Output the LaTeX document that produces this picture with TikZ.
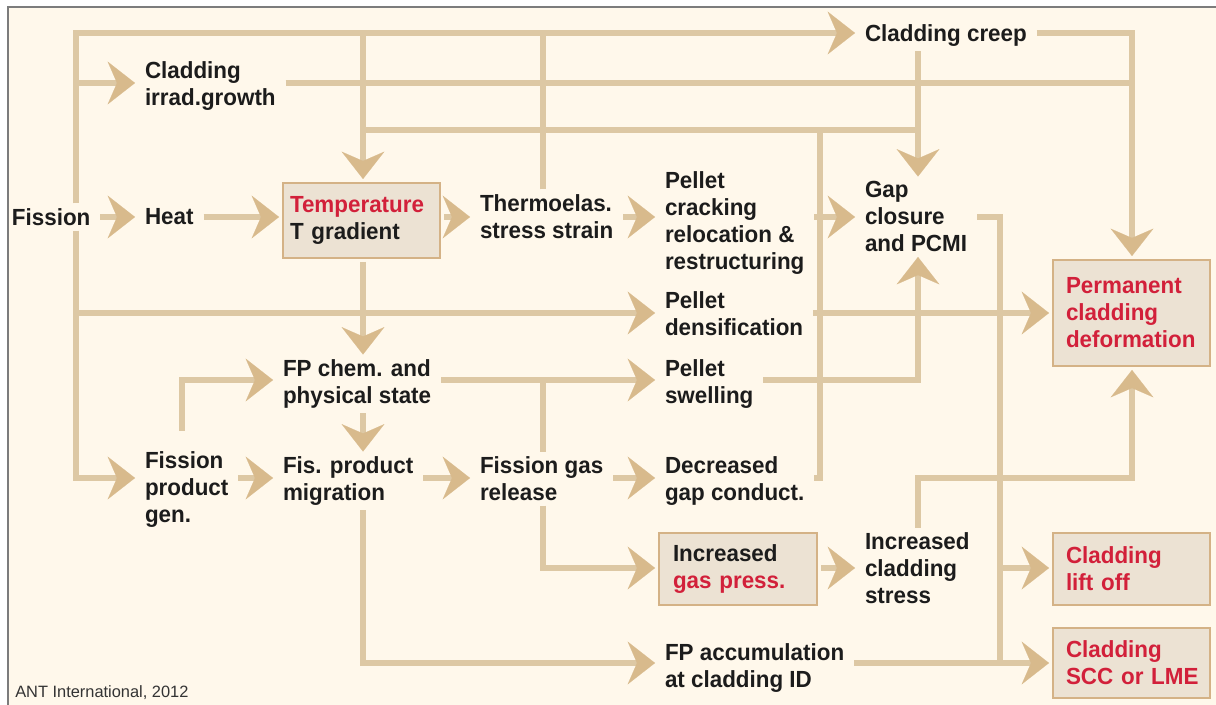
\documentclass[tikz,border=0pt]{standalone}
\usepackage{fontspec}
\setmainfont{Liberation Sans}[FakeStretch=0.96]
\newfontfamily\antfont{Liberation Sans}
\usetikzlibrary{arrows.meta}
\definecolor{bgc}{HTML}{FFF8EB}
\definecolor{linec}{HTML}{DDC8A4}
\definecolor{tipc}{HTML}{D8BA8C}
\definecolor{boxf}{HTML}{ECE2D3}
\definecolor{boxd}{HTML}{D4B286}
\definecolor{redt}{HTML}{D2203A}
\definecolor{txt}{HTML}{1C1C1C}
\definecolor{framec}{HTML}{7C7C7C}
\begin{document}
\begin{tikzpicture}[x=0.75pt,y=-0.75pt,
  conn/.style={draw=linec, line width=4.5pt},
  arr/.style={conn, -{Stealth[length=20.5pt,width=32pt,inset=7pt,line width=0.1pt,color=tipc]}},
  lbl/.style={anchor=north west, inner sep=0pt, outer xsep=7.5pt, outer ysep=3.75pt, align=left, text=txt,
    font=\fontsize{17.5}{20.25}\selectfont\bfseries},
  box/.style={anchor=north west, draw=boxd, fill=boxf, line width=2pt, outer sep=3pt, inner ysep=0pt,
    align=left, text=redt, font=\fontsize{17.5}{20.25}\selectfont\bfseries},
]
\useasboundingbox (0,0) rectangle (1216,705);
\fill[white] (0,0) rectangle (1216,705);
\fill[bgc] (8,7) rectangle (1216,705);
\draw[framec, line width=1.5pt] (8,705) -- (8,7) -- (1216,7);

% rows and columns
\coordinate (rTop) at (0,33);
\coordinate (rGrow) at (0,83);
\coordinate (rFb) at (0,130);
\coordinate (rMain) at (0,217);
\coordinate (rDens) at (0,313);
\coordinate (rSwell) at (0,380);
\coordinate (rMig) at (0,478);
\coordinate (rGas) at (0,568);
\coordinate (rAcc) at (0,663);
\coordinate (cA) at (76,0);
\coordinate (cB) at (182,0);
\coordinate (cC) at (363,0);
\coordinate (cD) at (543,0);
\coordinate (cE) at (820,0);
\coordinate (cF) at (918,0);
\coordinate (cG) at (1000,0);
\coordinate (cH) at (1132,0);

% text nodes
\node[lbl] (creep) at (855,19.5) {Cladding creep};
\node[lbl] (growth) at (135,56.5) {Cladding\\irrad.growth};
\node[lbl] (fission) at (2,203.5) {Fission};
\node[lbl] (heat) at (135,203.5) {Heat};
\node[lbl] (thermo) at (470,189.5) {Thermoelas.\\stress strain};
\node[lbl] (crack) at (655,166.5) {Pellet\\cracking\\relocation \&\\restructuring};
\node[lbl] (gap) at (855,176.5) {Gap\\closure\\and PCMI};
\node[lbl] (dens) at (655,286.5) {Pellet\\densification};
\node[lbl] (fpchem) at (273,354.5) {FP chem. and\\physical state};
\node[lbl] (swell) at (655,354.5) {Pellet\\swelling};
\node[lbl] (gen) at (135,446.5) {Fission\\product\\gen.};
\node[lbl] (mig) at (273,451.5) {Fis. product\\migration};
\node[lbl] (fgr) at (470,451.5) {Fission gas\\release};
\node[lbl] (decr) at (655,451.5) {Decreased\\gap conduct.};
\node[lbl] (stress) at (855,527.5) {Increased\\cladding\\stress};
\node[lbl] (acc) at (655,638.5) {FP accumulation\\at cladding ID};
\node[anchor=north west, inner sep=0pt, text=txt!90, font=\antfont\fontsize{12.3}{14}\selectfont] (ant) at (15,685.5) {ANT International, 2012};

% boxes
\node[box, minimum width=117.75pt, minimum height=56.25pt, text width=107.25pt, inner xsep=5.25pt] (temp) at (279,179)
  {Temperature\\\textcolor{txt}{T gradient}};
\node[box, minimum width=117.75pt, minimum height=79.5pt, text width=98.25pt, inner xsep=9.75pt] (perm) at (1049,256)
  {Permanent\\cladding\\\mbox{deformation}};
\node[box, minimum width=118.5pt, minimum height=54pt, text width=97.5pt, inner xsep=10.5pt] (gas) at (655,529)
  {\textcolor{txt}{Increased}\\gas press.};
\node[box, minimum width=117.75pt, minimum height=54pt, text width=98.25pt, inner xsep=9.75pt] (lift) at (1049,529)
  {Cladding\\lift off};
\node[box, minimum width=117.75pt, minimum height=52.5pt, text width=98.25pt, inner xsep=9.75pt] (scc) at (1049,624)
  {Cladding\\\mbox{SCC or LME}};

% connectors
\draw[arr] (fission.north -| cA) |- (creep.west |- rTop);
\draw[arr] (cA |- rGrow) -- (growth.west |- rGrow);
\draw[arr] (fission.south -| cA) |- (gen.west |- rMig);
\draw[arr] (cA |- rDens) -- (dens.west |- rDens);
\draw[arr] (fission.east |- rMain) -- (heat.west |- rMain);
\draw[arr] (heat.east |- rMain) -- (temp.west |- rMain);
\draw[arr] (cC |- rTop) -- (temp.north -| cC);
\draw[conn] (thermo.north -| cD) -- (cD |- rTop);
\draw[conn] (growth.east |- rGrow) -- (cH |- rGrow);
\draw[arr] (creep.east |- rTop) -| (perm.north -| cH);
\draw[arr] (creep.south -| cF) -- (gap.north -| cF);
\draw[conn] (cC |- rFb) -- (cF |- rFb);
\draw[conn] (decr.east |- rMig) -| (cE |- rFb);
\draw[arr] (temp.east |- rMain) -- (thermo.west |- rMain);
\draw[arr] (thermo.east |- rMain) -- (crack.west |- rMain);
\draw[arr] (crack.east |- rMain) -- (gap.west |- rMain);
\draw[conn] (gap.east |- rMain) -| (cG |- rAcc);
\draw[arr] (cG |- rGas) -- (lift.west |- rGas);
\draw[arr] (temp.south -| cC) -- (fpchem.north -| cC);
\draw[arr] (dens.east |- rDens) -- (perm.west |- rDens);
\draw[arr] ([yshift=12pt]gen.north -| cB) |- (fpchem.west |- rSwell);
\draw[arr] (fpchem.south -| cC) -- (mig.north -| cC);
\draw[arr] (fpchem.east |- rSwell) -- (swell.west |- rSwell);
\draw[conn] (fgr.north -| cD) -- (cD |- rSwell);
\draw[arr] (swell.east |- rSwell) -| (gap.south -| cF);
\draw[arr] (gen.east |- rMig) -- (mig.west |- rMig);
\draw[arr] (mig.east |- rMig) -- (fgr.west |- rMig);
\draw[arr] (fgr.east |- rMig) -- (decr.west |- rMig);
\draw[arr] (fgr.south -| cD) |- (gas.west |- rGas);
\draw[arr] (gas.east |- rGas) -- (stress.west |- rGas);
\draw[arr] (stress.north -| cF) |- (cH |- rMig) -- (perm.south -| cH);
\draw[arr] (mig.south -| cC) |- (acc.west |- rAcc);
\draw[arr] (acc.east |- rAcc) -- (scc.west |- rAcc);
\end{tikzpicture}
\end{document}
